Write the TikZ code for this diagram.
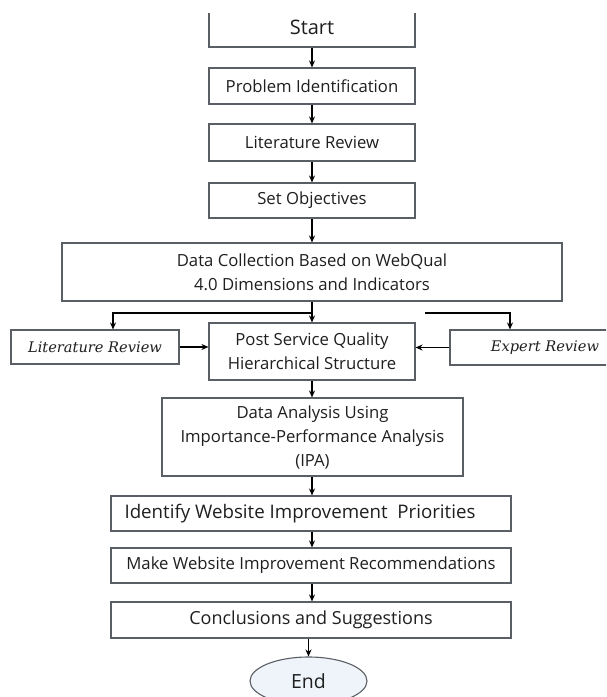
\documentclass[tikz,border=0pt]{standalone}
\usepackage{fontspec}
\setmainfont{Open Sans}
\newfontfamily\sidefont{DejaVu Serif}
\usetikzlibrary{arrows.meta,shapes.geometric}

\definecolor{boxline}{HTML}{5A5F66}
\definecolor{boxtext}{HTML}{1F1F1F}
\definecolor{endfill}{HTML}{EEF4FA}

\tikzset{
  stepbox/.style={draw=boxline, line width=1.1pt, text=boxtext, fill=white,
    align=center, inner sep=2pt, font=\fontsize{16.7}{24}\selectfont},
  bigtext/.style={font=\fontsize{#1}{24}\selectfont},
  sidebox/.style={stepbox, font=\sidefont\itshape\fontsize{14.6}{20}\selectfont},
  flow/.style={-{Stealth[length=7pt,width=6pt]}, line width=1.2pt, black},
}

\begin{document}
\begin{tikzpicture}[x=1pt,y=-1pt]
        % Fix the frame and cut the top edge
        \useasboundingbox (0,0) rectangle (606,697);
        \clip (0,13) rectangle (606,697);
        % Main column
        \node[stepbox, bigtext=20, minimum width=206, minimum height=40] (start) at (312,27) {Start};
        \node[stepbox, minimum width=206, minimum height=36] (probid) at (312,86) {Problem Identification};
        \node[stepbox, minimum width=206, minimum height=37] (litrev) at (312,142.5) {Literature Review};
        \node[stepbox, minimum width=206, minimum height=35] (setobj) at (312,200.5) {Set Objectives};
        \node[stepbox, minimum width=500, minimum height=58] (datacoll) at (312,272)
            {Data Collection Based on WebQual\\4.0 Dimensions and Indicators};
        \node[stepbox, minimum width=206, minimum height=57] (postsq) at (312,351.5)
            {Post Service Quality\\Hierarchical Structure};
        \node[stepbox, minimum width=301, minimum height=78] (ipa) at (312.5,437)
            {Data Analysis Using\\Importance-Performance Analysis\\(IPA)};
        \node[stepbox, bigtext=18.7, minimum width=400, minimum height=35] (priority) at (311,513.5)
            {Identify Website Improvement\ \ Priorities\hspace*{22pt}};
        \node[stepbox, minimum width=400, minimum height=35] (recomm) at (311,565.5)
            {Make Website Improvement Recommendations};
        \node[stepbox, bigtext=18, minimum width=400, minimum height=36] (concl) at (311,620)
            {Conclusions and Suggestions};
        \node[stepbox, bigtext=19.5, ellipse, fill=endfill, minimum width=117, minimum height=48] (finish) at (308.5,681) {End};
        % Side inputs
        \node[sidebox, minimum width=168, minimum height=34] (litside) at (95,347) {Literature Review};
        \node[sidebox, minimum width=190, minimum height=35] (expside) at (545,347.5) {Expert Review};
        % Connectors
        \foreach \a/\b in {start/probid, probid/litrev, litrev/setobj, setobj/datacoll,
            datacoll/postsq, postsq/ipa, ipa/priority, priority/recomm, recomm/concl}
          \draw[flow] (\a.south -| 312,0) -- (\b.north -| 312,0);
        \draw[flow] (concl.south -| 308.5,0) -- (finish.north);
        \coordinate (fork) at (312,313);
        \coordinate (gapR) at (425,313);
        \draw[flow] (fork) -| ([xshift=18pt]litside.north);
        \draw[flow] (gapR) -| ([xshift=-35pt]expside.north);
        \draw[flow] (litside.east) -- (litside.east -| postsq.west);
        \draw[flow] (expside.west) -- (expside.west -| postsq.east);
    \end{tikzpicture}
\end{document}
